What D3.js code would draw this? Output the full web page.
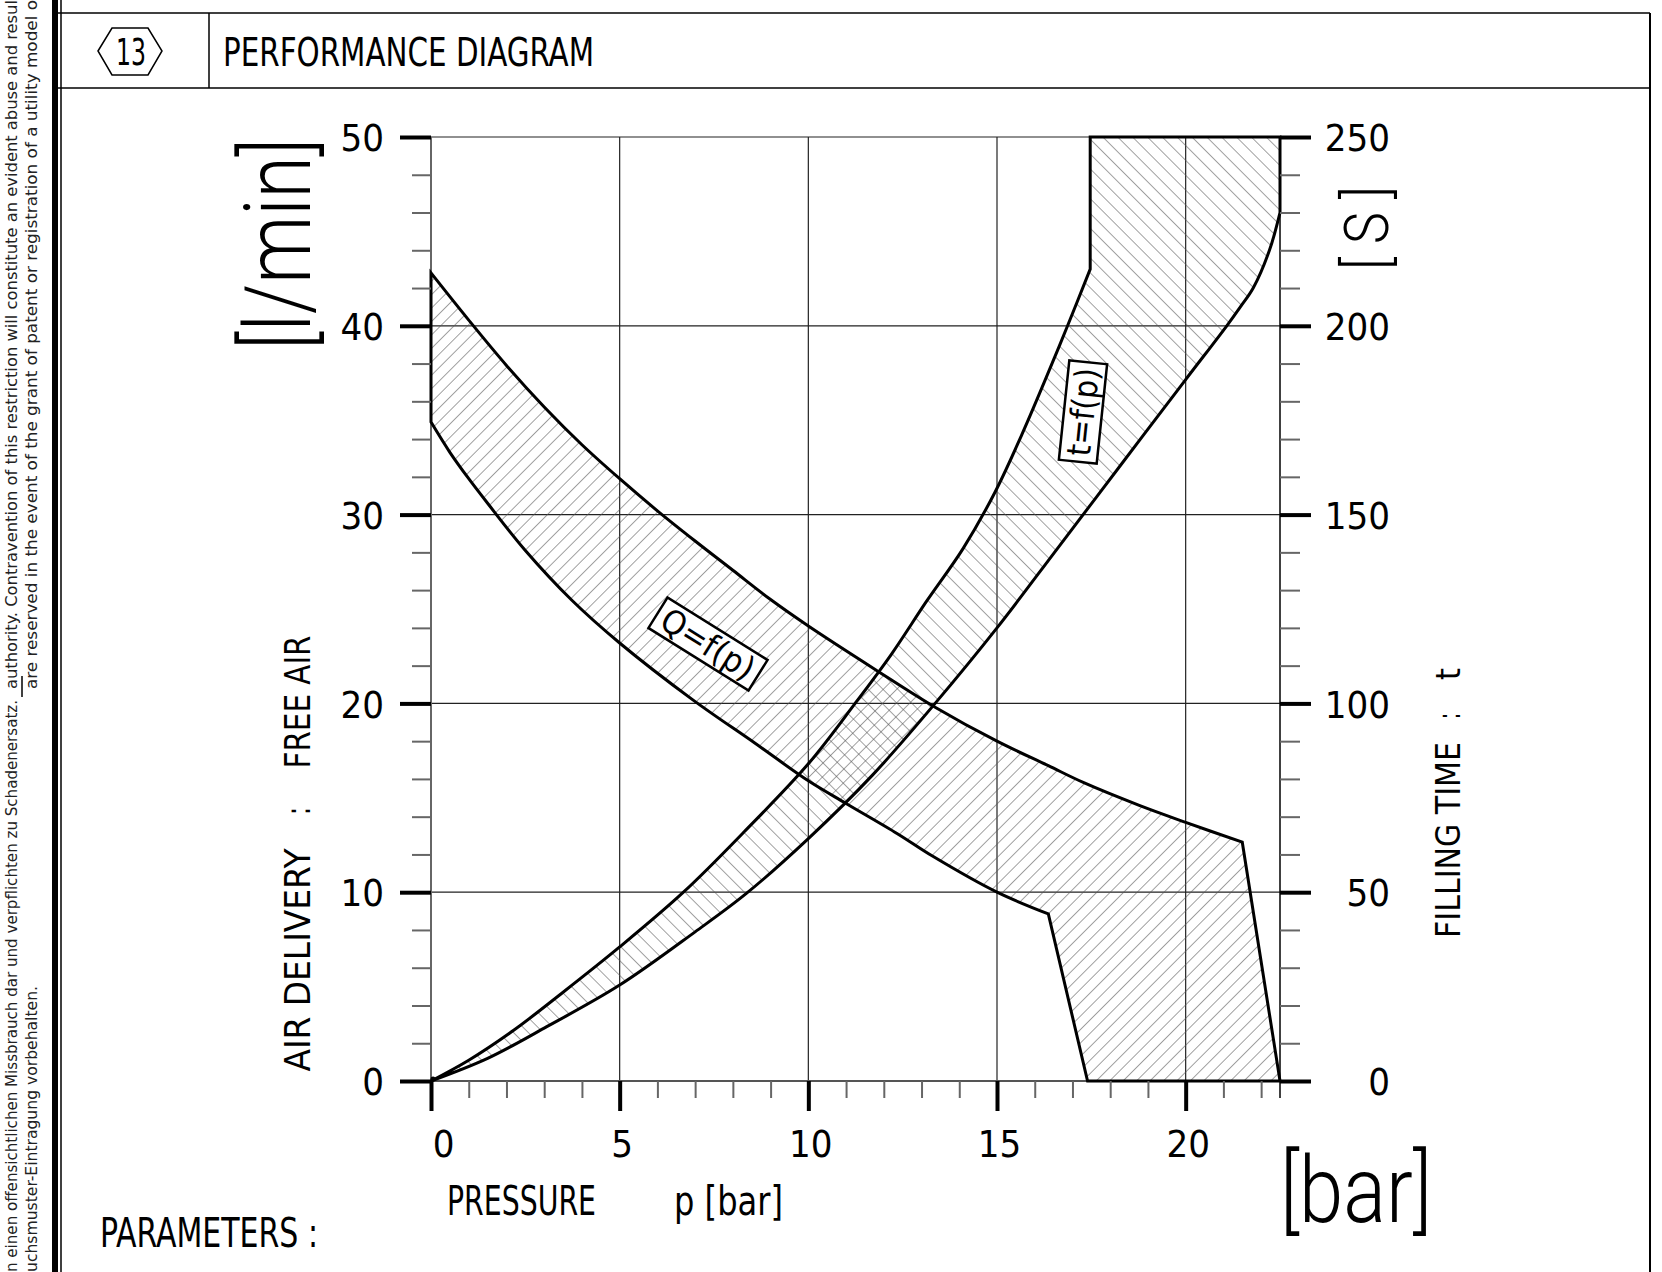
<!DOCTYPE html>
<html>
<head>
<meta charset="utf-8">
<script src="https://cdn.jsdelivr.net/npm/d3@7"></script>
<style>
body { margin: 0; background: #fff; }
svg { display: block; }
text { font-family: "DejaVu Sans Condensed", "DejaVu Sans", sans-serif; fill: #000; }
.thin { font-family: "Roboto", "Lato", "DejaVu Sans", sans-serif; font-weight: 300; }
</style>
</head>
<body>
<svg id="chart" width="1662" height="1272"></svg>
<script>
// tick values
var pMajor = [0, 5, 10, 15, 20];
var pMinor = [1, 2, 3, 4, 6, 7, 8, 9, 11, 12, 13, 14, 16, 17, 18, 19, 21, 22];
var qMajor = [0, 10, 20, 30, 40, 50];
var qMinor = [2, 4, 6, 8, 12, 14, 16, 18, 22, 24, 26, 28, 32, 34, 36, 38, 42, 44, 46, 48];
var tMajor = [0, 50, 100, 150, 200, 250];
var tMinor = [10, 20, 30, 40, 60, 70, 80, 90, 110, 120, 130, 140, 160, 170, 180, 190, 210, 220, 230, 240];

// air delivery band Q=f(p)  [p bar, Q l/min]
var qUpper = [[0, 42.8], [1, 40.3], [2, 37.9], [3, 35.7], [4, 33.7], [5, 31.9], [6, 30.2], [7, 28.6],
  [8, 27.05], [9, 25.5], [10, 24.1], [11.77, 21.8], [13.36, 19.8], [15, 18.0], [16.36, 16.7], [17.3, 15.8],
  [18.77, 14.6], [20, 13.7], [21.5, 12.65]];
var qFoot = [[22.5, 0], [17.4, 0]];
var qLower = [[16.36, 8.85], [15, 10.0], [13.3, 11.9], [12.36, 13.1], [11, 14.7], [10, 15.9], [8.58, 17.9],
  [6.93, 20.2], [5, 23.2], [3.74, 25.45], [2.5, 28.1], [1.5, 30.6], [1, 31.9], [0.5, 33.3], [0, 34.9]];

// filling time band t=f(p)  [p bar, t s]
var tLeft = [[0, 0], [1, 5.5], [2.2, 13.5], [3.5, 23.5], [5, 35.5], [6.69, 50], [8.3, 66], [10, 84],
  [11.24, 100], [12.2, 113], [13.13, 127], [14.1, 141], [14.95, 156], [15.65, 171], [16.25, 185],
  [16.87, 200], [17.47, 215]];
var tHead = [[17.47, 250], [22.5, 250]];
var tRight = [[22.5, 230], [22.22, 220], [21.79, 210], [21.45, 205], [21.09, 200], [19.98, 185.5],
  [18.3, 163.4], [16.6, 141], [15, 120], [13.36, 100], [11.7, 81], [10, 64.2], [8.35, 49.6],
  [7, 39.5], [5, 25.4], [3, 14], [1.5, 6], [0, 0]];

var svg = d3.select('#chart');

var x = d3.scaleLinear().domain([0, 22.5]).range([431, 1280]);
var yQ = d3.scaleLinear().domain([0, 50]).range([1081, 137]);
var yT = d3.scaleLinear().domain([0, 250]).range([1081, 137]);

// hatch patterns
var defs = svg.append('defs');
var hatch = function(id, angle, gap) {
  defs.append('pattern')
    .attr('id', id)
    .attr('patternUnits', 'userSpaceOnUse')
    .attr('width', gap).attr('height', gap)
    .attr('patternTransform', 'rotate(' + angle + ')')
    .append('line')
    .attr('x1', 0).attr('y1', 0).attr('x2', 0).attr('y2', gap)
    .attr('stroke', '#555').attr('stroke-width', 1.1);
};
hatch('hatchQ', 45, 9.5);
hatch('hatchT', -45, 10.5);

// frame and title block
var frame = svg.append('g').attr('stroke', '#000').attr('fill', 'none');
frame.append('line').attr('x1', 55).attr('y1', 0).attr('x2', 55).attr('y2', 1272).attr('stroke-width', 6);
frame.append('line').attr('x1', 61).attr('y1', 0).attr('x2', 61).attr('y2', 1272).attr('stroke-width', 1.5);
frame.append('line').attr('x1', 58).attr('y1', 13).attr('x2', 1650).attr('y2', 13).attr('stroke-width', 1.5);
frame.append('line').attr('x1', 58).attr('y1', 88).attr('x2', 1650).attr('y2', 88).attr('stroke-width', 1.5);
frame.append('line').attr('x1', 1650).attr('y1', 13).attr('x2', 1650).attr('y2', 1272).attr('stroke-width', 2);
frame.append('line').attr('x1', 209).attr('y1', 13).attr('x2', 209).attr('y2', 88).attr('stroke-width', 1.5);
frame.append('polygon')
  .attr('points', '98,51 112,28 148,28 162,51 148,75 112,75')
  .attr('stroke-width', 1.5);

svg.append('text').attr('x', 131).attr('y', 52).attr('text-anchor', 'middle')
  .attr('dominant-baseline', 'central').style('font-size', '38px')
  .attr('textLength', 30).attr('lengthAdjust', 'spacingAndGlyphs').text('13');
svg.append('text').attr('x', 223).attr('y', 52).attr('dominant-baseline', 'central')
  .style('font-size', '39px').attr('textLength', 371).attr('lengthAdjust', 'spacingAndGlyphs')
  .text('PERFORMANCE DIAGRAM');

// margin notes (rotated, cut by the page edge)
var margin = function(xb, y, str, anchor, len) {
  svg.append('text')
    .attr('transform', 'translate(' + xb + ',' + y + ') rotate(-90)')
    .attr('text-anchor', anchor)
    .style('font-size', '16px').style('fill', '#222')
    .attr('textLength', len).attr('lengthAdjust', 'spacingAndGlyphs')
    .text(str);
};
margin(17, 700, 'n einen offensichtlichen Missbrauch dar und verpflichten zu Schadenersatz.', 'end', 572);
margin(37, 986, 'uchsmuster-Eintragung vorbehalten.', 'end', 286);
margin(17, 689, 'authority. Contravention of this restriction will constitute an evident abuse and resul', 'start', 689);
margin(37, 689, 'are reserved in the event of the grant of patent or registration of a utility model o', 'start', 689);
svg.append('line').attr('x1', 22).attr('y1', 676).attr('x2', 22).attr('y2', 697)
  .attr('stroke', '#000').attr('stroke-width', 1.5);

// grid
var grid = svg.append('g').attr('stroke', '#222').attr('stroke-width', 1.2);
grid.selectAll('.gx').data([5, 10, 15, 20]).enter().append('line')
  .attr('x1', function(d) { return x(d); }).attr('x2', function(d) { return x(d); })
  .attr('y1', yQ(0)).attr('y2', yQ(50));
grid.selectAll('.gy').data([10, 20, 30, 40, 50]).enter().append('line')
  .attr('x1', x(0)).attr('x2', x(22.5))
  .attr('y1', function(d) { return yQ(d); }).attr('y2', function(d) { return yQ(d); });
// axis lines
svg.append('line').attr('x1', x(0)).attr('x2', x(0)).attr('y1', yQ(0)).attr('y2', yQ(50))
  .attr('stroke', '#666').attr('stroke-width', 2);
svg.append('line').attr('x1', x(22.5)).attr('x2', x(22.5)).attr('y1', yQ(0) + 17).attr('y2', yQ(50))
  .attr('stroke', '#000').attr('stroke-width', 1.5);
svg.append('line').attr('x1', x(0)).attr('x2', x(22.5)).attr('y1', yQ(0)).attr('y2', yQ(0))
  .attr('stroke', '#555').attr('stroke-width', 2);

// bands
var lineQ = d3.line().x(function(d) { return x(d[0]); }).y(function(d) { return yQ(d[1]); })
  .curve(d3.curveCatmullRom.alpha(0.5));
var lineT = d3.line().x(function(d) { return x(d[0]); }).y(function(d) { return yT(d[1]); })
  .curve(d3.curveCatmullRom.alpha(0.5));
var asL = function(s) { return 'L' + s.slice(1); };

var qPath = lineQ(qUpper) +
  qFoot.map(function(d) { return 'L' + x(d[0]) + ',' + yQ(d[1]); }).join('') +
  asL(lineQ(qLower)) + 'Z';
var tPath = lineT(tLeft) +
  tHead.map(function(d) { return 'L' + x(d[0]) + ',' + yT(d[1]); }).join('') +
  asL(lineT(tRight)) + 'Z';

svg.append('path').attr('d', qPath).attr('fill', 'url(#hatchQ)');
svg.append('path').attr('d', tPath).attr('fill', 'url(#hatchT)');
svg.append('path').attr('d', qPath).attr('fill', 'none').attr('stroke', '#000')
  .attr('stroke-width', 3).attr('stroke-linejoin', 'miter');
svg.append('path').attr('d', tPath).attr('fill', 'none').attr('stroke', '#000')
  .attr('stroke-width', 3).attr('stroke-linejoin', 'miter');
svg.append('circle').attr('cx', x(0) + 2).attr('cy', yQ(0) - 2).attr('r', 2.5).attr('fill', '#000');

// axes
var styleTicks = function(g, color, width) {
  g.select('.domain').remove();
  g.selectAll('.tick line').attr('stroke', color).attr('stroke-width', width);
};
svg.append('g').attr('transform', 'translate(' + x(0) + ',0)')
  .call(d3.axisLeft(yQ).tickValues(qMinor).tickSize(19).tickFormat(''))
  .call(styleTicks, '#666', 2);
var leftAxis = svg.append('g').attr('transform', 'translate(' + x(0) + ',0)')
  .call(d3.axisLeft(yQ).tickValues(qMajor).tickSize(31).tickPadding(16))
  .call(styleTicks, '#000', 4);
svg.append('g').attr('transform', 'translate(' + x(22.5) + ',0)')
  .call(d3.axisRight(yT).tickValues(tMinor).tickSize(20).tickFormat(''))
  .call(styleTicks, '#666', 2);
var rightAxis = svg.append('g').attr('transform', 'translate(' + x(22.5) + ',0)')
  .call(d3.axisRight(yT).tickValues(tMajor).tickSize(31))
  .call(styleTicks, '#000', 4);
svg.append('g').attr('transform', 'translate(0,' + yQ(0) + ')')
  .call(d3.axisBottom(x).tickValues(pMinor).tickSize(17).tickFormat(''))
  .call(styleTicks, '#666', 2);
var bottomAxis = svg.append('g').attr('transform', 'translate(0,' + yQ(0) + ')')
  .call(d3.axisBottom(x).tickValues(pMajor).tickSize(30))
  .call(styleTicks, '#000', 4);

[leftAxis, rightAxis, bottomAxis].forEach(function(g) {
  g.selectAll('text')
    .style('font-family', '"DejaVu Sans Condensed", "DejaVu Sans", sans-serif')
    .style('font-size', '38px').attr('fill', '#000');
});
leftAxis.selectAll('text').attr('dy', '0.36em');
rightAxis.selectAll('text').attr('text-anchor', 'end').attr('x', 110).attr('dy', '0.36em');
bottomAxis.selectAll('text').attr('y', 62).attr('dy', '0.36em')
  .attr('dx', function(d) { return d === 0 ? 12 : 2; });

// axis titles
var vtext = function(cx, cy, str, size, len, cls) {
  svg.append('text')
    .attr('class', cls || null)
    .attr('transform', 'translate(' + cx + ',' + cy + ') rotate(-90)')
    .attr('text-anchor', 'middle').attr('dominant-baseline', 'central')
    .style('font-size', size + 'px')
    .attr('textLength', len).attr('lengthAdjust', 'spacingAndGlyphs')
    .text(str);
};
var htext = function(x0, cy, str, size, len, cls) {
  svg.append('text')
    .attr('class', cls || null)
    .attr('x', x0).attr('y', cy).attr('dominant-baseline', 'central')
    .style('font-size', size + 'px')
    .attr('textLength', len).attr('lengthAdjust', 'spacingAndGlyphs')
    .text(str);
};
vtext(278, 244, '[l/min]', 92, 212, 'thin');
vtext(297, 960, 'AIR DELIVERY', 36, 223);
vtext(297, 811, ':', 36, 8);
vtext(297, 702, 'FREE AIR', 36, 133);
vtext(1366, 228, '[ S ]', 62, 84, 'thin');
vtext(1448, 840, 'FILLING TIME', 33, 196);
vtext(1448, 716, ':', 33, 7);
vtext(1448, 674, 't', 33, 12);
htext(447, 1201, 'PRESSURE', 40, 149);
htext(674, 1201, 'p [bar]', 40, 109);
htext(1280, 1190, '[bar]', 92, 152, 'thin');
htext(100, 1233, 'PARAMETERS :', 40, 218);

// curve tags
var tag = function(cx, cy, angle, w, h, str, len) {
  var g = svg.append('g').attr('transform', 'translate(' + cx + ',' + cy + ') rotate(' + angle + ')');
  g.append('rect').attr('x', -w / 2).attr('y', -h / 2).attr('width', w).attr('height', h)
    .attr('fill', '#fff').attr('stroke', '#000').attr('stroke-width', 2.5);
  g.append('text').attr('text-anchor', 'middle').attr('dominant-baseline', 'central')
    .style('font-size', '33px').attr('textLength', len).attr('lengthAdjust', 'spacingAndGlyphs')
    .text(str);
};
tag(708, 644, 32, 118, 36, 'Q=f(p)', 104);
tag(1083, 412, -84, 100, 38, 't=f(p)', 88);
</script>
</body>
</html>
